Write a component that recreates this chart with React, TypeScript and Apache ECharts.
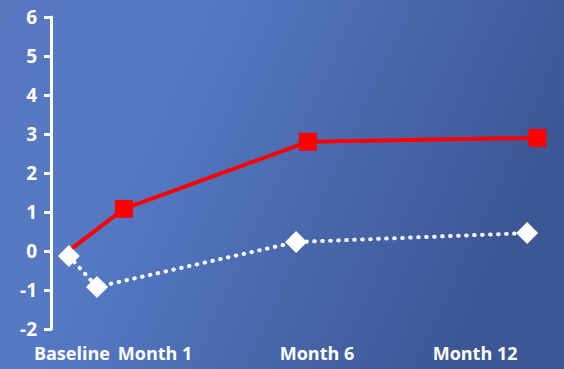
import React, { useEffect, useRef } from "react";
import * as echarts from "echarts";

const xLabels = ["Baseline", "Month 1", "Month 6", "Month 12"];
const xLabelPositions = [0.05, 2.24, 6.5, 10.66];

const redX = [0.0, 1.42, 6.26, 12.3];
const redY = [0.03, 1.08, 2.8, 2.9];

const whiteX = [-0.03, 0.71, 5.95, 12.03];
const whiteY = [-0.13, -0.92, 0.23, 0.46];

const yTicks = { min: -2, max: 6, interval: 1 };

export default function App() {
  const ref = useRef<HTMLDivElement>(null);
  useEffect(() => {
    if (!ref.current) return;
    const chart = echarts.init(ref.current, null, { renderer: "svg" });
    const font = "Open Sans";
    chart.setOption({
      animation: false,
      backgroundColor: new echarts.graphic.LinearGradient(0, 0, 1, 0.3, [
        { offset: 0, color: "#5878c0" },
        { offset: 0.35, color: "#5479c3" },
        { offset: 1, color: "#3d5795" },
      ]),
      grid: { left: 51, right: 0, top: 17, bottom: 40, containLabel: false, outerBoundsMode: "none" },
      xAxis: {
        type: "value",
        min: -0.5,
        max: 13,
        axisLine: { show: false },
        axisTick: { show: false },
        splitLine: { show: false },
        axisLabel: {
          customValues: xLabelPositions,
          color: "#ffffff",
          fontFamily: font,
          fontWeight: "bold",
          fontSize: 18,
          margin: 15,
          formatter: (v: number) => {
            let best = 0;
            xLabelPositions.forEach((p, i) => {
              if (Math.abs(p - v) < Math.abs(xLabelPositions[best] - v)) best = i;
            });
            return xLabels[best];
          },
        },
      },
      yAxis: {
        type: "value",
        min: yTicks.min,
        max: yTicks.max,
        interval: yTicks.interval,
        axisLine: { show: true, onZero: false, lineStyle: { color: "#ffffff", width: 3 } },
        axisTick: { show: true, length: 7, lineStyle: { color: "#ffffff", width: 3 } },
        splitLine: { show: false },
        axisLabel: {
          color: "#ffffff",
          fontFamily: font,
          fontWeight: "bold",
          fontSize: 19,
          margin: 14,
        },
      },
      series: [
        {
          type: "line",
          z: 2,
          data: redX.map((x, i) =>
            i === 0 ? { value: [x, redY[i]], symbol: "none" } : [x, redY[i]]
          ),
          symbol: "rect",
          symbolSize: 18,
          itemStyle: { color: "#ff0000" },
          lineStyle: { color: "#ff0000", width: 4 },
        },
        {
          type: "line",
          z: 3,
          data: whiteX.map((x, i) => [x, whiteY[i]]),
          symbol: "diamond",
          symbolSize: 22,
          itemStyle: { color: "#ffffff" },
          lineStyle: { color: "#ffffff", width: 4, type: [0.5, 7.5], cap: "round" },
        },
      ],
    });
    return () => chart.dispose();
  }, []);
  return <div ref={ref} style={{ width: 564, height: 369, position: "absolute", left: 0, top: 0 }} />;
}
